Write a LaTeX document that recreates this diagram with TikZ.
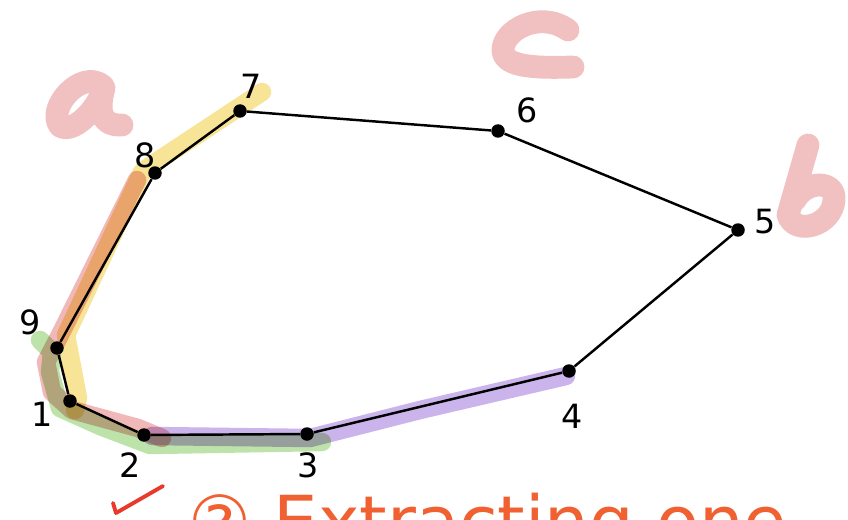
\documentclass[tikz,border=0pt]{standalone}
\usepackage{fontspec}
\setmainfont{DejaVu Sans}
\definecolor{lettpink}{HTML}{F1C1C1}
\definecolor{hlyellow}{HTML}{F8E496}
\definecolor{hlpink}{HTML}{F0B8B8}
\definecolor{hlgreen}{HTML}{BDE2AA}
\definecolor{hlpurple}{HTML}{CBB4EB}
\definecolor{inkorange}{HTML}{F06030}
\definecolor{inkred}{HTML}{E8392B}
\tikzset{
  vtx/.style={circle,fill=black,inner sep=0pt,minimum size=0.27cm},
  edge/.style={line width=1.4pt},
  lbl/.style={font=\fontsize{19}{19}\selectfont,inner sep=0pt},
  hl/.style={line width=10.5pt,line cap=round,line join=round},
  bigletter/.style={draw=lettpink,line width=13pt,line cap=round,line join=round},
}
\begin{document}
\begin{tikzpicture}[x=0.02cm,y=-0.02cm]
\useasboundingbox (0,0) rectangle (848,520);
\clip (0,0) rectangle (848,520);
\fill[white] (0,0) rectangle (848,520);

% pink handwritten letters
\draw[bigletter] (103,86) .. controls (82,68) and (46,108) .. (60,126) .. controls (72,134) and (96,112) .. (104,88) .. controls (98,110) and (100,126) .. (122,125);
\draw[bigletter] (568,30) .. controls (540,10) and (503,30) .. (503,50) .. controls (503,68) and (540,68) .. (573,67);
\draw[bigletter] (808,145) -- (788,215) .. controls (795,236) and (832,226) .. (834,200) .. controls (836,180) and (806,180) .. (795,200);

% highlights
\begin{scope}[blend mode=multiply]
\draw[hl,hlpink] (137,180) -- (60,335) -- (46,362) -- (52,392) -- (72,410) -- (138,428) -- (162,438);
\draw[hl,hlyellow] (262,92) -- (150,166) -- (142,172) -- (66,335) -- (78,398) -- (75,410);
\draw[hl,hlgreen] (40,340) -- (52,352) -- (50,372) -- (60,408) -- (100,426) -- (150,445) -- (322,442);
\draw[hl,hlpurple] (152,436) -- (310,438) -- (420,410) -- (566,376);
\end{scope}

% vertices
\node[vtx] (v1) at (70,401) {};
\node[vtx] (v2) at (144,435) {};
\node[vtx] (v3) at (307,434) {};
\node[vtx] (v4) at (569,371) {};
\node[vtx] (v5) at (738,230) {};
\node[vtx] (v6) at (498,131) {};
\node[vtx] (v7) at (240,111) {};
\node[vtx] (v8) at (155,173) {};
\node[vtx] (v9) at (57,348) {};

\draw[edge] (v1) -- (v2) -- (v3) -- (v4) -- (v5) -- (v6) -- (v7) -- (v8) -- (v9) -- (v1);

% labels
\node[lbl] (l9) at (30,322) {9};
\node[lbl] (l1) at (42,414) {1};
\node[lbl] (l2) at (130,465) {2};
\node[lbl] (l3) at (308,465) {3};
\node[lbl] (l4) at (572,416) {4};
\node[lbl] (l5) at (765,222) {5};
\node[lbl] (l6) at (527,110) {6};
\node[lbl] (l7) at (251,86) {7};
\node[lbl] (l8) at (145,155) {8};

% check mark
\draw[inkred,line width=2.2pt,line cap=round,line join=round] (113,503) -- (116,513) -- (163,486);

% cut-off orange note
\node[anchor=base west,inner sep=0pt,text=inkorange,font=\fontsize{40}{40}\selectfont] (note) at (188,546) {② Extracting one};
\end{tikzpicture}
\end{document}
